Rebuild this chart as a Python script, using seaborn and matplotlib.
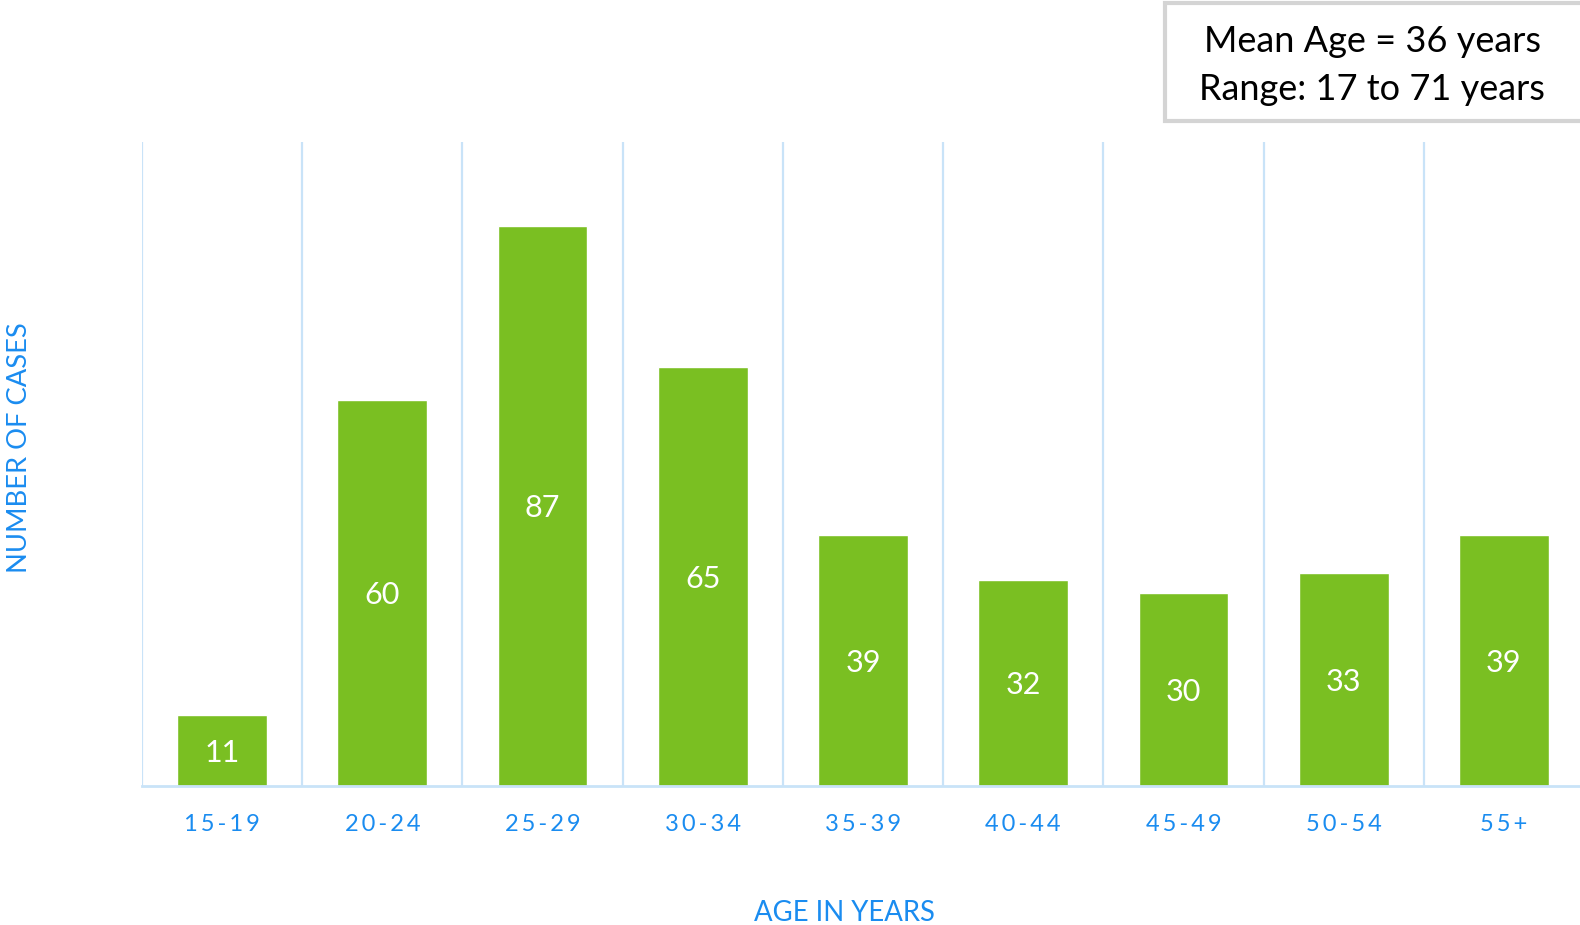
import matplotlib
matplotlib.use("Agg")
import matplotlib.pyplot as plt
from matplotlib.patches import Rectangle
import seaborn as sns
import pandas as pd

# Age-group case counts
age_groups = ["15-19", "20-24", "25-29", "30-34", "35-39", "40-44", "45-49", "50-54", "55+"]
cases = [11, 60, 87, 65, 39, 32, 30, 33, 39]
summary_lines = ["Mean Age = 36 years", "Range: 17 to 71 years"]

GREEN = "#7abf22"
BLUE = "#1a8cf0"
GRID = "#c9e3f8"

sns.set_theme(style="white")
plt.rcParams["font.family"] = ["Lato", "DejaVu Sans"]

df = pd.DataFrame({"age": age_groups, "cases": cases})

W, H = 1580, 925
fig = plt.figure(figsize=(W / 100, H / 100), dpi=100)
ax = fig.add_axes([142 / W, 139 / H, 1442 / W, 644 / H])

sns.barplot(data=df, x="age", y="cases", color=GREEN, width=0.56,
            saturation=1, ax=ax, zorder=3)

ax.set_ylim(0, 100)
ax.set_xlim(-0.5, len(age_groups) - 0.5)

# category separators
for i in range(len(age_groups) + 1):
    ax.axvline(i - 0.5, color=GRID, lw=1.6, zorder=1)

for s in ["top", "right", "left"]:
    ax.spines[s].set_visible(False)
ax.spines["bottom"].set_color(GRID)
ax.spines["bottom"].set_linewidth(2)
ax.spines["bottom"].set_zorder(4)

ax.set_yticks([])
spaced = ["\u2009".join(list(a)) for a in age_groups]
ax.set_xticks(range(len(age_groups)))
ax.set_xticklabels(spaced, color=BLUE, fontsize=17)
ax.tick_params(axis="x", length=0, pad=20)

for i, v in enumerate(cases):
    ax.text(i, v / 2, str(v), ha="center", va="center_baseline", color="white",
            fontsize=22, zorder=5)

ax.set_xlabel("AGE IN YEARS", color=BLUE, fontsize=19.8)
ax.xaxis.set_label_coords(0.487, -0.197)
ax.set_ylabel("NUMBER OF CASES", color=BLUE, fontsize=19.7)
ax.yaxis.set_label_coords(-0.0847, 0.525)
ax.xaxis.label.set_va("center")
ax.yaxis.label.set_va("center")

# summary box
box = Rectangle((1165 / W, (H - 121) / H), (W - 1165 + 10) / W, 118 / H,
                transform=fig.transFigure, facecolor="white",
                edgecolor="#d4d4d4", lw=3, clip_on=False)
fig.patches.append(box)
fig.text(1372 / W, 1 - 41 / H, summary_lines[0], ha="center", va="center",
         fontsize=26, color="black")
fig.text(1372 / W, 1 - 90 / H, summary_lines[1], ha="center", va="center",
         fontsize=26, color="black")

fig.savefig("out.png", dpi=100, facecolor="white")
